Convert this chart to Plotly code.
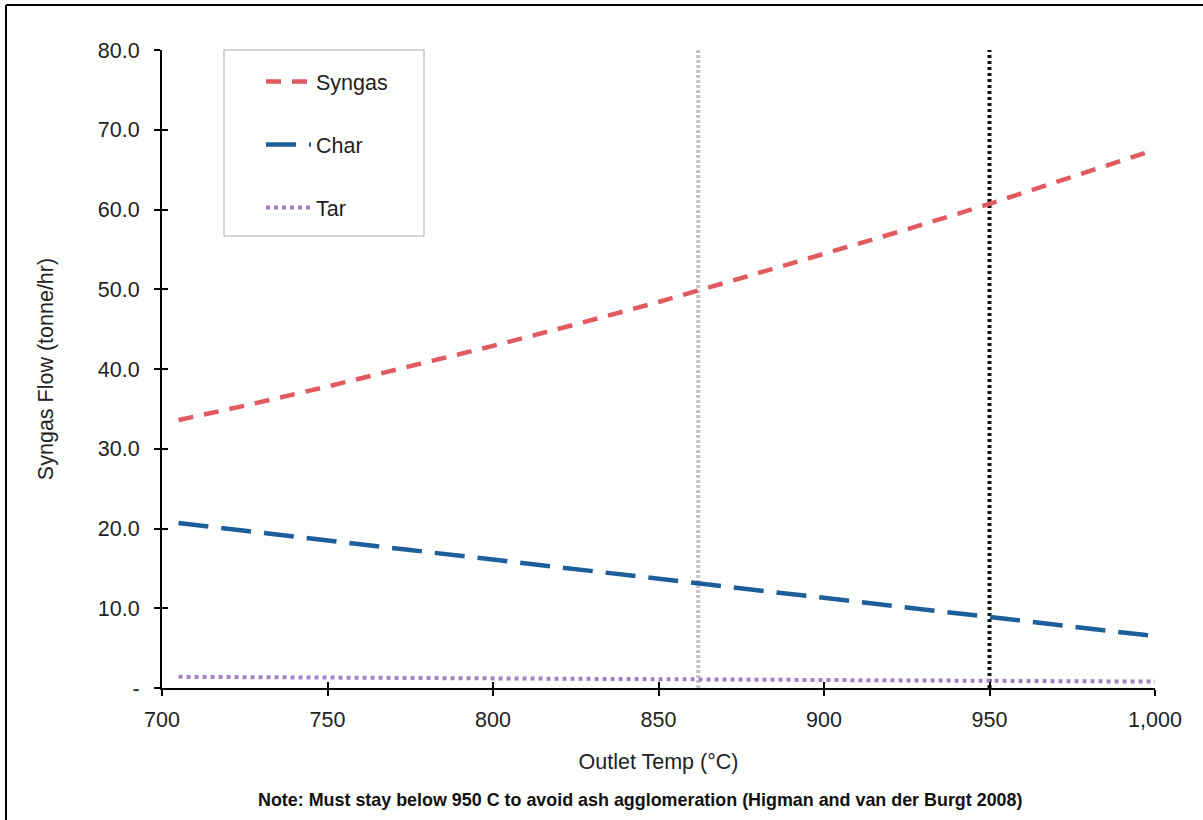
import plotly.graph_objects as go

# ---- data ----
temps = [705, 725, 750, 775, 800, 825, 850, 875, 900, 925, 950, 975, 1000]
syngas = [33.6, 35.4, 37.8, 40.3, 42.9, 45.6, 48.4, 51.4, 54.4, 57.5, 60.7, 64.1, 67.5]
char = [20.7, 19.7, 18.5, 17.3, 16.1, 14.9, 13.7, 12.5, 11.3, 10.1, 8.9, 7.7, 6.5]
tar = [1.40, 1.36, 1.31, 1.26, 1.21, 1.16, 1.11, 1.06, 1.01, 0.96, 0.91, 0.86, 0.80]

ref_grey_x = [862, 862]
ref_black_x = [950, 950]
ref_y = [0, 80]

x_tickvals = [700, 750, 800, 850, 900, 950, 1000]
x_ticktext = ["700", "750", "800", "850", "900", "950", "1,000"]
y_tickvals = [0, 10, 20, 30, 40, 50, 60, 70, 80]
y_ticktext = ["-", "10.0", "20.0", "30.0", "40.0", "50.0", "60.0", "70.0", "80.0"]

FONT = "Liberation Sans, Arial, Helvetica, sans-serif"
FS = 21.5
TXT = "#222222"

fig = go.Figure()

fig.add_trace(go.Scatter(x=ref_grey_x, y=ref_y, mode="lines", showlegend=False,
                         line=dict(color="#c4c4c4", width=4, dash="3px,2px"), hoverinfo="skip"))
fig.add_trace(go.Scatter(x=ref_black_x, y=ref_y, mode="lines", showlegend=False,
                         line=dict(color="#111111", width=4, dash="3px,3px"), hoverinfo="skip"))

fig.add_trace(go.Scatter(x=temps, y=syngas, mode="lines", name="Syngas", legendgroup="a",
                         line=dict(color="#E05A60", width=4.5, dash="15px,11px")))
fig.add_trace(go.Scatter(x=temps, y=char, mode="lines", name="Char", legendgroup="b",
                         line=dict(color="#1C5F9B", width=4.5, dash="30px,13px")))
fig.add_trace(go.Scatter(x=temps, y=tar, mode="lines", name="Tar", legendgroup="c",
                         line=dict(color="#A67FC4", width=4, dash="4px,4px")))

# dummy trace for overlay axes (inside half of the crossing ticks)
fig.add_trace(go.Scatter(x=[None], y=[None], xaxis="x2", yaxis="y2", showlegend=False,
                         hoverinfo="skip"))

L, R, T, B = 162, 48, 50, 132
W, H = 1203, 820
pw = W - L - R
ph = H - T - B

def px_x(px):
    return (px - L) / pw

def px_y(py):
    return (H - B - py) / ph

shapes = [
    # legend box
    dict(type="rect", xref="paper", yref="paper", x0=px_x(224), x1=px_x(424),
         y0=px_y(236), y1=px_y(50), line=dict(color="#c8c8c8", width=1.5)),
    # outer frame
    dict(type="line", xref="paper", yref="paper", x0=px_x(6), x1=px_x(1215),
         y0=px_y(5), y1=px_y(5), line=dict(color="#000000", width=2)),
    dict(type="line", xref="paper", yref="paper", x0=px_x(6), x1=px_x(6),
         y0=px_y(5), y1=px_y(830), line=dict(color="#000000", width=2)),
]

axis_common = dict(showgrid=False, zeroline=False, linecolor="#000000", linewidth=2,
                   tickcolor="#000000", tickwidth=2, ticklen=6,
                   tickfont=dict(family=FONT, size=FS, color=TXT))

fig.update_layout(
    width=W, height=H,
    margin=dict(l=L, r=R, t=T, b=B),
    paper_bgcolor="white", plot_bgcolor="white",
    font=dict(family=FONT, size=FS, color=TXT),
    xaxis=dict(range=[700, 1000], tickvals=x_tickvals, ticktext=x_ticktext, ticks="outside",
               showline=True, ticklabelstandoff=5,
               title=dict(text="Outlet Temp (°C)", standoff=23,
                          font=dict(family=FONT, size=FS, color=TXT)),
               **axis_common),
    yaxis=dict(range=[0, 80], tickvals=y_tickvals, ticktext=y_ticktext, ticks="outside",
               showline=True, ticklabelstandoff=10,
               title=dict(text="Syngas Flow (tonne/hr)", standoff=38,
                          font=dict(family=FONT, size=FS, color=TXT)),
               **axis_common),
    xaxis2=dict(range=[700, 1000], tickvals=x_tickvals, ticks="inside", showticklabels=False,
                overlaying="x", showline=False, showgrid=False, zeroline=False,
                tickcolor="#000000", tickwidth=2, ticklen=6),
    yaxis2=dict(range=[0, 80], tickvals=y_tickvals, ticks="inside", showticklabels=False,
                overlaying="y", showline=False, showgrid=False, zeroline=False,
                tickcolor="#000000", tickwidth=2, ticklen=6),
    legend=dict(x=px_x(261), y=px_y(61), xanchor="left", yanchor="top",
                bgcolor="rgba(0,0,0,0)", borderwidth=0, tracegroupgap=32,
                itemwidth=45, font=dict(family=FONT, size=FS, color=TXT)),
    shapes=shapes,
    annotations=[
        dict(text="<b>Note: Must stay below 950 C to avoid ash agglomeration (Higman and van der Burgt 2008)</b>",
             xref="paper", yref="paper", x=px_x(640), y=px_y(800), xanchor="center",
             yanchor="middle", showarrow=False,
             font=dict(family=FONT, size=17.9, color="#111111")),
    ],
)

fig.write_html("out.html", config={"displayModeBar": False},
               post_script="document.body.style.margin='0';document.body.style.overflow='hidden';")
